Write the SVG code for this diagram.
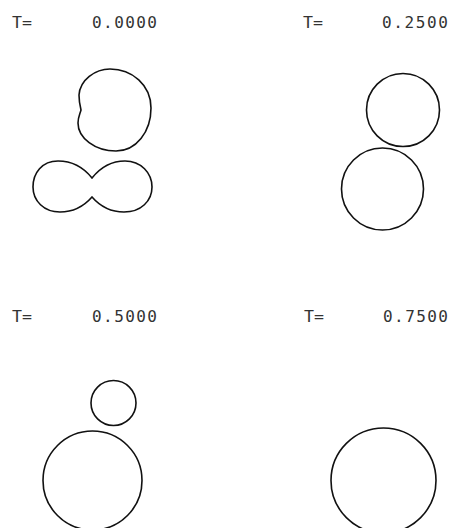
<svg xmlns="http://www.w3.org/2000/svg" width="450" height="528" viewBox="0 0 450 528">
<style>
text{font-family:"DejaVu Sans Mono","Liberation Mono",monospace;font-size:16px;fill:#333}
.s{fill:none;stroke:#111;stroke-width:1.6}
</style>
<rect width="450" height="528" fill="#fff"/>
<g id="panel1">
<text x="12" y="27.5" textLength="20" lengthAdjust="spacingAndGlyphs">T=</text>
<text x="92" y="27.5" textLength="65" lengthAdjust="spacing">0.0000</text>
<path class="s" d="M110,69 C132,69 151,85 151,108 C151,132 136,151 116,151 C95,151 78,138 78,123 C78,117 80,114 81,110 C80,106 79,102 79,95 C80,80 95,69 110,69 Z"/>
<path class="s" d="M92,178 C84,168 73,161 58,161 C42,161 33,173 33,187 C33,201 44,212 60,212 C74,212 85,205 92,197 C99,205 110,212 124,212 C141,212 152,201 152,187 C152,173 141,161 125,161 C111,161 100,168 92,178 Z"/>
</g>
<g id="panel2">
<text x="303" y="27.5" textLength="20" lengthAdjust="spacingAndGlyphs">T=</text>
<text x="382" y="27.5" textLength="66" lengthAdjust="spacing">0.2500</text>
<circle class="s" cx="403" cy="110" r="36.5"/>
<circle class="s" cx="382.5" cy="189" r="41"/>
</g>
<g id="panel3">
<text x="12" y="321.5" textLength="20" lengthAdjust="spacingAndGlyphs">T=</text>
<text x="92" y="321.5" textLength="65" lengthAdjust="spacing">0.5000</text>
<circle class="s" cx="113.5" cy="403" r="22.5"/>
<circle class="s" cx="92.5" cy="480.5" r="49.5"/>
</g>
<g id="panel4">
<text x="304" y="321.5" textLength="20" lengthAdjust="spacingAndGlyphs">T=</text>
<text x="383" y="321.5" textLength="65" lengthAdjust="spacing">0.7500</text>
<circle class="s" cx="383.5" cy="480.5" r="52.5"/>
</g>
<g id="connectors"/>
</svg>
